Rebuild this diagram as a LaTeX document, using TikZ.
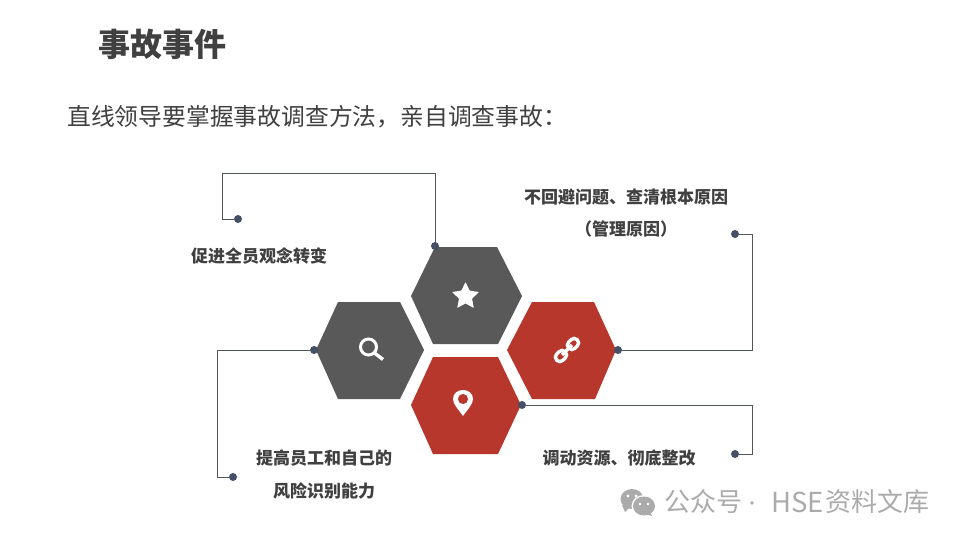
\documentclass[tikz,border=0pt]{standalone}
\usepackage{fontspec}
\setmainfont{Noto Sans CJK SC}
\usetikzlibrary{calc}
\definecolor{hexgray}{HTML}{595959}
\definecolor{hexred}{HTML}{B8372C}
\definecolor{dotblue}{HTML}{454F66}
\definecolor{linegray}{HTML}{50555C}
\definecolor{txt}{HTML}{404040}
\definecolor{wm}{HTML}{ABABAB}
\tikzset{
  x=1pt,y=-1pt,
  hexgrayfill/.style={fill=hexgray},
  hexredfill/.style={fill=hexred},
  dotnode/.style={circle,fill=dotblue,inner sep=0pt,minimum size=8pt},
  conn/.style={draw=linegray,line width=1pt},
  lab/.style={font=\bfseries\fontsize{17}{20}\selectfont,text=txt,inner sep=0pt,align=center},
  icon/.style={draw=white,line width=3pt,fill=none},
  wmtext/.style={anchor=west,inner sep=0pt,font=\fontsize{26}{30}\selectfont,text=wm},
}
\begin{document}
\begin{tikzpicture}
\useasboundingbox (0,0) rectangle (960,540);
\fill[white] (0,0) rectangle (960,540);
% hexagons
\fill[hexgrayfill] (435,247)--(497,247)--(522,296)--(498,344)--(433,344)--(411,296)--cycle;
\fill[hexgrayfill] (338,302)--(400,302)--(424,350)--(400,399)--(338,399)--(316,350)--cycle;
\fill[hexredfill] (532,302)--(594,302)--(616,350)--(595,399)--(532,399)--(507,350)--cycle;
\fill[hexredfill] (433,357)--(498,357)--(521,405)--(498,454)--(433,454)--(411,405)--cycle;
% dots
\node[dotnode] (d1a) at (238,219) {};
\node[dotnode] (d1b) at (435,246) {};
\node[dotnode] (d2a) at (735,234) {};
\node[dotnode] (d2b) at (618,350) {};
\node[dotnode] (d3a) at (314,350) {};
\node[dotnode] (d3b) at (233,477) {};
\node[dotnode] (d4a) at (522,405) {};
\node[dotnode] (d4b) at (735,454) {};
\coordinate (c1a) at (222,219); \coordinate (c1b) at (222,174); \coordinate (c1c) at (435,174);
\coordinate (c2a) at (752,234); \coordinate (c2b) at (752,350);
\coordinate (c3a) at (217,350); \coordinate (c3b) at (217,477);
\coordinate (c4a) at (752,405); \coordinate (c4b) at (752,454);
\draw[conn] (d1a)--(c1a)--(c1b)--(c1c)--(d1b);
\draw[conn] (d2a)--(c2a)--(c2b)--(d2b);
\draw[conn] (d3a)--(c3a)--(c3b)--(d3b);
\draw[conn] (d4a)--(c4a)--(c4b)--(d4b);
% star
\fill[white,rounded corners=0.6pt] (465.5,282)--(469.6,290.6)--(479,292)--(472,298.6)--(473.8,308)--(465.5,303.4)--(457.2,308)--(459,298.6)--(452,292)--(461.4,290.6)--cycle;
% magnifier
\draw[icon] (368.5,347) circle (8);
\draw[white,line width=3.4pt] (374.5,353)--(383,359.5);
% link
\begin{scope}[shift={(567,350)},rotate=45]
\draw[white,line width=3.4pt,rounded corners=4.2pt] (-2.5,-4.4) rectangle (-14.5,4.4);
\draw[white,line width=3.4pt,rounded corners=4.2pt] (2.5,-4.4) rectangle (14.5,4.4);
\draw[white,line width=3.4pt] (-7,0)--(7,0);
\end{scope}
% pin
\fill[white,even odd rule] (463,416) .. controls (458,409) and (453,404) .. (453,399) .. controls (453,393) and (458,390) .. (463,390) .. controls (468,390) and (473,393) .. (473,399) .. controls (473,404) and (468,409) .. (463,416) -- cycle (463,399) circle (5.2);
% texts
\node[anchor=west,inner sep=0pt,font=\bfseries\fontsize{32}{36}\selectfont,text=txt] (title) at (98,44) {事故事件};
\node[anchor=west,inner sep=0pt,font=\fontsize{23.8}{28}\selectfont,text=txt] (sub) at (67,117) {直线领导要掌握事故调查方法，亲自调查事故：};
\node[lab] (l1) at (259,256) {促进全员观念转变};
\node[lab] (l2a) at (626,197) {不回避问题、查清根本原因};
\node[lab] (l2b) at (626,229) {（管理原因）};
\node[lab] (l3a) at (324,458) {提高员工和自己的};
\node[lab] (l3b) at (324,491) {风险识别能力};
\node[lab] (l4) at (619,458) {调动资源、彻底整改};
% watermark
\fill[wm] (632,499) ellipse (11.5 and 10);
\fill[wm] (622,505)--(625,512)--(630,507)--cycle;
\fill[white] (644,506) ellipse (12.5 and 11);
\fill[wm] (644,506) ellipse (11 and 9.5);
\fill[wm] (650,512)--(652,516)--(645,514)--cycle;
\fill[white] (628,496) circle (1.6) (636,496) circle (1.6) (640,504) circle (1.3) (648,504) circle (1.3);
\node[wmtext] (wmark) at (664,502) {公众号};
\node[wmtext,anchor=center,font=\fontsize{16}{20}\selectfont] (wmdot) at (752,506) {·};
\node[wmtext,font=\fontsize{27.5}{30}\selectfont] (wmhse) at (771,502) {HSE};
\node[wmtext] (wmname) at (825,502) {资料文库};
\end{tikzpicture}
\end{document}
